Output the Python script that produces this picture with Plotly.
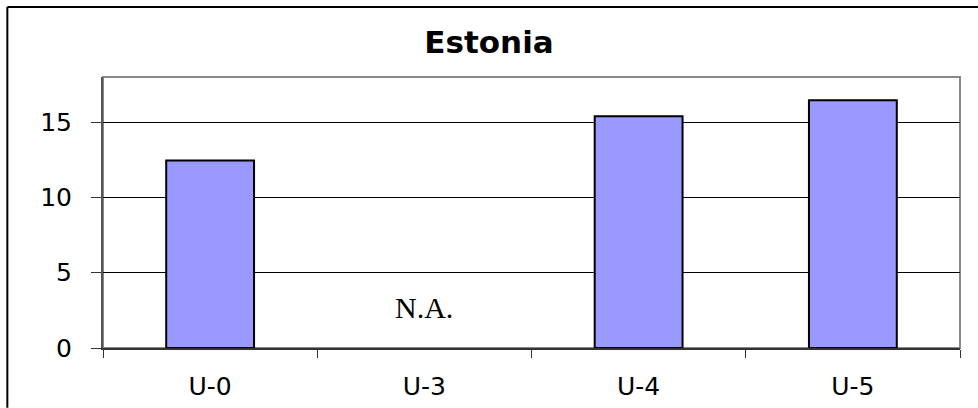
import plotly.graph_objects as go

categories = ["U-0", "U-3", "U-4", "U-5"]
values = [12.45, None, 15.4, 16.45]
y_ticks = [0, 5, 10, 15]
na_label = "N.A."
title = "Estonia"

fig = go.Figure()
fig.add_trace(go.Bar(
    x=categories, y=values, width=0.41,
    marker=dict(color="#9999FF", line=dict(color="black", width=2)),
    hoverinfo="skip",
))

L, R, T, B = 102.7, 960, 77, 348.3
W, H = 978, 408
pw, ph = R - L, B - T

fig.add_annotation(x="U-3", y=2.7, text=na_label, showarrow=False,
                   font=dict(family="Liberation Serif", size=30, color="black"),
                   xanchor="center", yanchor="middle")

# plot area border (gray)
fig.add_shape(type="rect", xref="paper", yref="paper", x0=0, x1=1, y0=0, y1=1,
              line=dict(color="#888888", width=2), layer="below")
# outer frame: only top and left edges are visible in the picture
fx0 = (7 - L) / pw
fy1 = (B - 7) / ph
fig.add_shape(type="line", xref="paper", yref="paper",
              x0=fx0, x1=(W - L) / pw, y0=fy1, y1=fy1,
              line=dict(color="black", width=2))
fig.add_shape(type="line", xref="paper", yref="paper",
              x0=fx0, x1=fx0, y0=fy1, y1=(B - H) / ph,
              line=dict(color="black", width=2))

fig.update_layout(
    width=W, height=H,
    margin=dict(l=L, r=W - R, t=T, b=H - B, pad=0, autoexpand=False),
    paper_bgcolor="white", plot_bgcolor="white",
    showlegend=False,
    title=dict(text="<b>" + title + "</b>", x=0.5, xanchor="center",
               y=1 - 42 / H, yanchor="middle", yref="container",
               font=dict(family="DejaVu Sans", size=31, color="black")),
    font=dict(family="DejaVu Sans", size=25, color="black"),
)
fig.update_xaxes(
    type="category", categoryorder="array", categoryarray=categories,
    automargin=False,
    showline=True, linecolor="#333333", linewidth=2,
    ticks="outside", tickson="boundaries", ticklen=8, tickcolor="#333333", tickwidth=1,
    ticklabelstandoff=15,
    showgrid=False, zeroline=False,
    tickfont=dict(family="DejaVu Sans", size=25, color="black"),
)
fig.update_yaxes(
    range=[0, 18], tickvals=y_ticks,
    automargin=False,
    showline=True, linecolor="#555555", linewidth=2,
    ticks="outside", ticklen=10, tickcolor="#333333", tickwidth=1,
    ticklabelstandoff=14,
    showgrid=True, gridcolor="black", gridwidth=1,
    zeroline=False,
    tickfont=dict(family="DejaVu Sans", size=25, color="black"),
)

fig.write_html("out.html", config={"displayModeBar": False},
               post_script="document.body.style.margin='0';document.body.style.overflow='hidden';")
